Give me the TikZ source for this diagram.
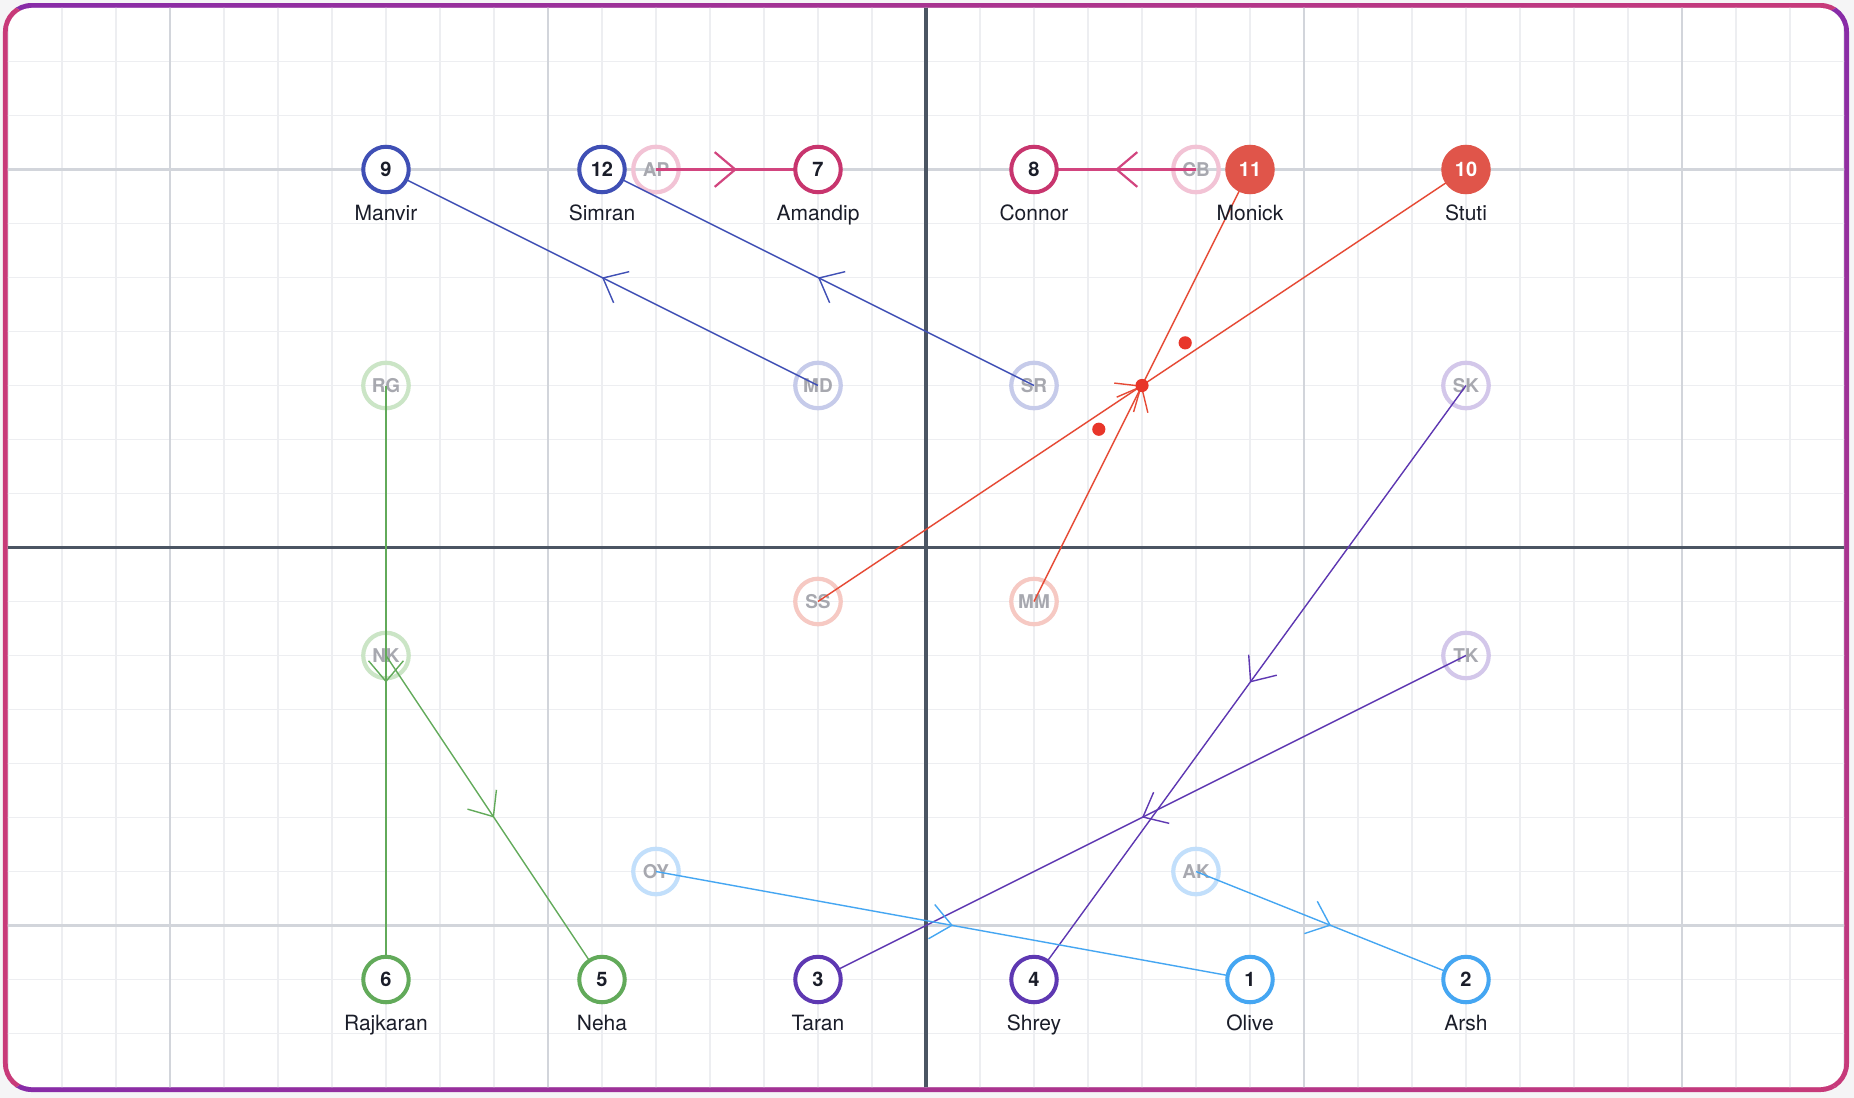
\documentclass[tikz,border=0pt]{standalone}
\usepackage{fontspec}
\setmainfont{TeX Gyre Heros}
\usetikzlibrary{arrows.meta,decorations.markings}
\definecolor{pagebg}{HTML}{F5F5F6}
\definecolor{fpurple}{HTML}{872CA8}
\definecolor{fpink}{HTML}{C83A79}
\definecolor{minorc}{HTML}{EDEEF1}
\definecolor{majorc}{HTML}{D2D5DB}
\definecolor{axisc}{HTML}{4B5563}
\definecolor{txt}{HTML}{1A1D29}
\definecolor{ghosttxt}{HTML}{A7A8AF}
\definecolor{cblue}{HTML}{3F4FB5}
\definecolor{gblue}{HTML}{C6CBEA}
\definecolor{ccrim}{HTML}{C8356E}
\definecolor{lcrim}{HTML}{D2457F}
\definecolor{gcrim}{HTML}{F2C3D5}
\definecolor{cred}{HTML}{E0554A}
\definecolor{lred}{HTML}{E64A35}
\definecolor{gred}{HTML}{F6C9C3}
\definecolor{dotred}{HTML}{E8362A}
\definecolor{cgreen}{HTML}{62AA5A}
\definecolor{ggreen}{HTML}{CBE5C6}
\definecolor{cpurp}{HTML}{5E38B2}
\definecolor{gpurp}{HTML}{D3C7EA}
\definecolor{clblue}{HTML}{45A6F2}
\definecolor{glblue}{HTML}{C2DFFB}
\pgfdeclarelayer{bg}
\pgfdeclarelayer{fg}
\pgfsetlayers{bg,main,fg}
\begin{document}
\begin{tikzpicture}[x=27pt,y=27pt,
  player/.style={circle, draw=#1, line width=2pt, fill=white, minimum size=22.75pt, inner sep=0pt, text=txt, font=\bfseries\fontsize{10}{12}\selectfont},
  filledplayer/.style={circle, draw=#1, fill=#1, line width=2pt, minimum size=22.75pt, inner sep=0pt, text=white, font=\bfseries\fontsize{10}{12}\selectfont},
  ghost/.style={circle, draw=#1, line width=2.1pt, minimum size=22.75pt, inner sep=0pt, text=ghosttxt, font=\bfseries\fontsize{9.5}{11}\selectfont},
  lbl/.style={anchor=base, inner sep=0pt, text=txt, font=\fontsize{10.5}{12}\selectfont},
  conn/.style={color=#1, line width=0.7pt, postaction={decorate},
    decoration={markings, mark=at position 0.5 with {\arrow{Straight Barb[length=10.3pt,width=17.4pt]}}}},
  ballstyle/.style={circle, fill=dotred, minimum size=6.6pt, inner sep=0pt},
  minorline/.style={draw=minorc, line width=0.6pt},
  majorline/.style={draw=majorc, line width=1.4pt},
  axisline/.style={draw=axisc, line width=1.6pt}]
\useasboundingbox (-17.148,-10.194) rectangle (17.185,10.139);
\begin{pgfonlayer}{bg}
  \fill[pagebg] (-17.148,-10.194) rectangle (17.185,10.139);
  \begin{scope}
    \clip[rounded corners=14.25pt] (-17.0923,-10.0833) rectangle (17.0923,10.0833);
    \shade[left color=fpurple, right color=fpink] (0,0) -- (-17.2,10.2) -- (17.2,10.2) -- cycle;
    \shade[top color=fpurple, bottom color=fpink] (0,0) -- (17.2,10.2) -- (17.2,-10.2) -- cycle;
    \shade[left color=fpurple, right color=fpink] (0,0) -- (-17.2,-10.2) -- (17.2,-10.2) -- cycle;
    \fill[fpink] (0,0) -- (-17.2,10.2) -- (-17.2,-10.2) -- cycle;
  \end{scope}
  \fill[white, rounded corners=11.75pt] (-17.0,-9.991) rectangle (17.0,9.991);
  \begin{scope}
    \clip[rounded corners=11.75pt] (-17.0,-9.991) rectangle (17.0,9.991);
    \foreach \x in {-17,...,17} \draw[minorline] (\x,-10.2) -- (\x,10.2);
    \foreach \y in {-10,...,10} \draw[minorline] (-17.2,\y) -- (17.2,\y);
    \foreach \x in {-14,-7,7,14} \draw[majorline] (\x,-10.2) -- (\x,10.2);
    \foreach \y in {-7,7} \draw[majorline] (-17.2,\y) -- (17.2,\y);
    \draw[axisline] (0,-10.2) -- (0,10.2);
    \draw[axisline] (-17.2,0) -- (17.2,0);
  \end{scope}
\end{pgfonlayer}

% ghost positions
\node[ghost=gcrim] (AP) at (-5,7) {AP};
\node[ghost=gcrim] (CB) at (5,7) {CB};
\node[ghost=ggreen] (RG) at (-10,3) {RG};
\node[ghost=gblue] (MD) at (-2,3) {MD};
\node[ghost=gblue] (SR) at (2,3) {SR};
\node[ghost=gpurp] (SK) at (10,3) {SK};
\node[ghost=gred] (SS) at (-2,-1) {SS};
\node[ghost=gred] (MM) at (2,-1) {MM};
\node[ghost=ggreen] (NK) at (-10,-2) {NK};
\node[ghost=gpurp] (TK) at (10,-2) {TK};
\node[ghost=glblue] (OY) at (-5,-6) {OY};
\node[ghost=glblue] (AK) at (5,-6) {AK};

% players
\begin{pgfonlayer}{fg}
\node[player=cblue] (n9) at (-10,7) {9};
\node[player=cblue] (n12) at (-6,7) {12};
\node[player=ccrim] (n7) at (-2,7) {7};
\node[player=ccrim] (n8) at (2,7) {8};
\node[filledplayer=cred] (n11) at (6,7) {11};
\node[filledplayer=cred] (n10) at (10,7) {10};
\node[player=cgreen] (n6) at (-10,-8) {6};
\node[player=cgreen] (n5) at (-6,-8) {5};
\node[player=cpurp] (n3) at (-2,-8) {3};
\node[player=cpurp] (n4) at (2,-8) {4};
\node[player=clblue] (n1) at (6,-8) {1};
\node[player=clblue] (n2) at (10,-8) {2};

\node[lbl] (l9) at (-10,6.056) {Manvir};
\node[lbl] (l12) at (-6,6.056) {Simran};
\node[lbl] (l7) at (-2,6.056) {Amandip};
\node[lbl] (l8) at (2,6.056) {Connor};
\node[lbl] (l11) at (6,6.056) {Monick};
\node[lbl] (l10) at (10,6.056) {Stuti};
\node[lbl] (l6) at (-10,-8.944) {Rajkaran};
\node[lbl] (l5) at (-6,-8.944) {Neha};
\node[lbl] (l3) at (-2,-8.944) {Taran};
\node[lbl] (l4) at (2,-8.944) {Shrey};
\node[lbl] (l1) at (6,-8.944) {Olive};
\node[lbl] (l2) at (10,-8.944) {Arsh};
\end{pgfonlayer}

% connectors
\draw[conn=cblue] (MD.center) -- (n9.center);
\draw[conn=cblue] (SR.center) -- (n12.center);
\draw[conn=lcrim, line width=1.1pt] (AP.center) -- (n7.center);
\draw[conn=lcrim, line width=1.1pt] (CB.center) -- (n8.center);
\draw[conn=lred] (MM.center) -- (n11.center);
\draw[conn=lred] (SS.center) -- (n10.center);
\draw[conn=cgreen] (RG.center) -- (n6.center);
\draw[conn=cgreen] (NK.center) -- (n5.center);
\draw[conn=cpurp] (SK.center) -- (n4.center);
\draw[conn=cpurp] (TK.center) -- (n3.center);
\draw[conn=clblue] (OY.center) -- (n1.center);
\draw[conn=clblue] (AK.center) -- (n2.center);

\begin{pgfonlayer}{fg}
\node[ballstyle] (ball) at (4,3) {};
\node[ballstyle] (ballA) at (4.8,3.79) {};
\node[ballstyle] (ballB) at (3.2,2.19) {};
\end{pgfonlayer}
\end{tikzpicture}
\end{document}
